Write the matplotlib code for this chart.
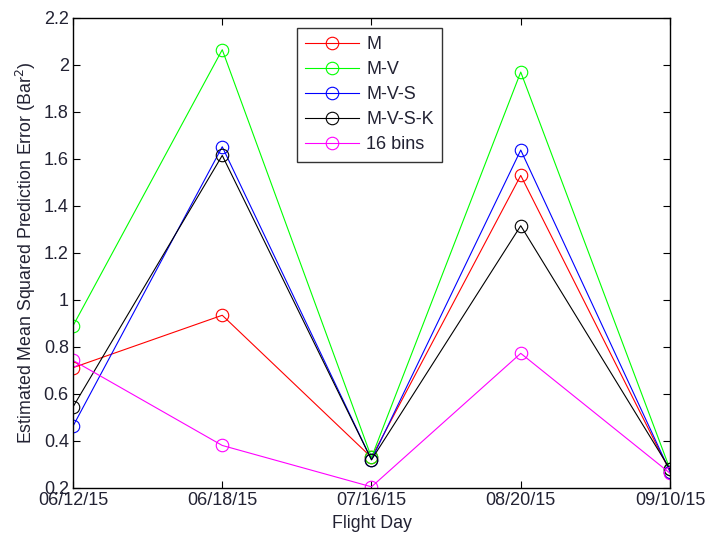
import matplotlib
matplotlib.use("Agg")
import matplotlib.pyplot as plt

plt.rcParams['font.family'] = ['Liberation Sans', 'DejaVu Sans']

days = ["06/12/15", "06/18/15", "07/16/15", "08/20/15", "09/10/15"]
m_vals = [0.712, 0.935, 0.33, 1.53, 0.27]
mv_vals = [0.89, 2.065, 0.33, 1.97, 0.28]
mvs_vals = [0.463, 1.652, 0.32, 1.638, 0.27]
mvsk_vals = [0.545, 1.615, 0.32, 1.316, 0.28]
bins16_vals = [0.743, 0.381, 0.205, 0.773, 0.263]

series = [
    ("M", m_vals, (1, 0, 0)),
    ("M-V", mv_vals, (0, 1, 0)),
    ("M-V-S", mvs_vals, (0, 0, 1)),
    ("M-V-S-K", mvsk_vals, (0, 0, 0)),
    ("16 bins", bins16_vals, (1, 0, 1)),
]

fig = plt.figure(figsize=(7.06, 5.40), dpi=100)
ax = fig.add_axes([0.1034, 0.0963, 0.8456, 0.8704])

x = list(range(len(days)))
for name, vals, col in series:
    ax.plot(x, vals, color=col, lw=0.8, marker='o', markersize=9,
            markerfacecolor='none', markeredgecolor=col, markeredgewidth=0.8,
            label=name)

ax.set_xlim(0, len(days) - 1)
ax.set_ylim(0.2, 2.2)
ax.set_xticks(x)
ax.set_xticklabels(days)
yt = [0.2 + 0.2 * i for i in range(11)]
ax.set_yticks(yt)
ax.set_yticklabels([f"{v:.1f}".rstrip('0').rstrip('.') for v in yt])
ax.tick_params(direction='in', top=True, right=True, length=5, width=0.8,
               labelsize=13, pad=3, colors='black', labelcolor='#222233')
for s in ax.spines.values():
    s.set_linewidth(1.0)

ax.set_xlabel("Flight Day", fontsize=12.8, labelpad=4, color='#222233')
ax.set_ylabel("Estimated Mean Squared Prediction Error (Bar$^2$)", fontsize=12.8,
              labelpad=4, color='#222233')

leg = ax.legend(loc='upper left', bbox_to_anchor=(0.375, 0.979), fontsize=13,
                frameon=True, fancybox=False, edgecolor='black',
                handlelength=3.0, handletextpad=0.4, labelspacing=0.45,
                borderpad=0.45, borderaxespad=0)
leg.get_frame().set_linewidth(1.0)
for t in leg.get_texts():
    t.set_color('#222233')

fig.savefig("out.png", dpi=100)
